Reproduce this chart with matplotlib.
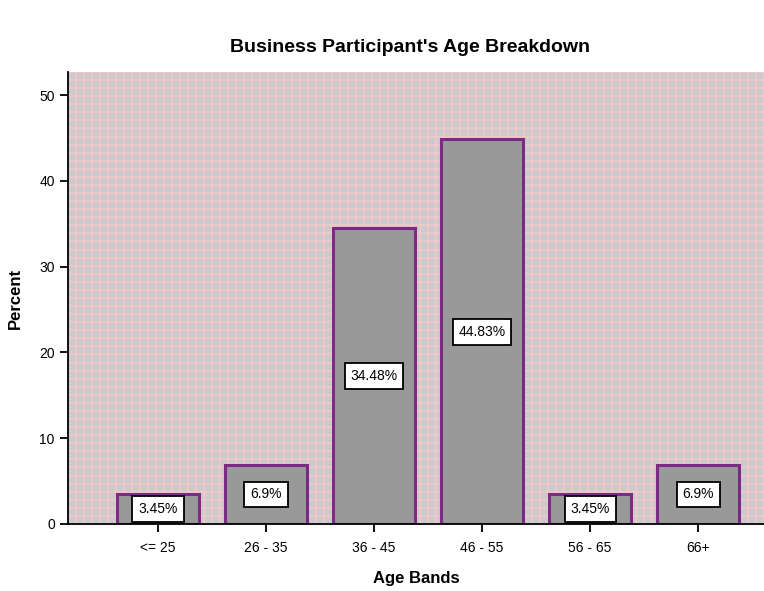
import numpy as np
import matplotlib
matplotlib.use("Agg")
import matplotlib.pyplot as plt
from matplotlib.collections import LineCollection

plt.rcParams["font.family"] = ["Liberation Sans", "DejaVu Sans"]

age_bands = ["<= 25", "26 - 35", "36 - 45", "46 - 55", "56 - 65", "66+"]
percents = [3.45, 6.9, 34.48, 44.83, 3.45, 6.9]
value_labels = ["3.45%", "6.9%", "34.48%", "44.83%", "3.45%", "6.9%"]

fig = plt.figure(figsize=(7.64, 5.91), dpi=100)
ax = fig.add_axes([0.089, 0.1134, 0.911, 0.7648])

# grey background with pink mesh
ax.set_facecolor("#cbcbcb")
xs = np.linspace(0, 1, 88)
ys = np.linspace(0, 1, 57)
segs = [[(x, 0), (x, 1)] for x in xs] + [[(0, y), (1, y)] for y in ys]
ax.add_collection(LineCollection(segs, colors="#f7c8ca", linewidths=1.1,
                                 transform=ax.transAxes, zorder=0.5))

x = np.arange(len(age_bands))
ax.bar(x, percents, width=0.76, color="#999999", edgecolor="#7b2a86",
       linewidth=2.2, zorder=2)
for xi, p, lab in zip(x, percents, value_labels):
    ax.text(xi, p / 2, lab, ha="center", va="center", fontsize=10, zorder=3,
            bbox=dict(boxstyle="square,pad=0.42", fc="white", ec="black", lw=1.3))

ax.set_xlim(-0.833, 5.61)
ax.set_ylim(0, 52.7)
ax.set_yticks([0, 10, 20, 30, 40, 50])
ax.set_xticks(x)
ax.set_xticklabels(age_bands)
ax.tick_params(axis="both", labelsize=10, length=6, width=1.3, direction="out")
ax.tick_params(axis="x", pad=6)
for side in ["top", "right"]:
    ax.spines[side].set_visible(False)
for side in ["left", "bottom"]:
    ax.spines[side].set_linewidth(1.3)

ax.set_xlabel("Age Bands", fontsize=12, fontweight="bold", labelpad=12)
ax.set_ylabel("Percent", fontsize=12, fontweight="bold", labelpad=12)
fig.text(0.537, 0.92, "Business Participant's Age Breakdown", ha="center",
         va="center", fontsize=14, fontweight="bold")

fig.savefig("out.png", dpi=100)
